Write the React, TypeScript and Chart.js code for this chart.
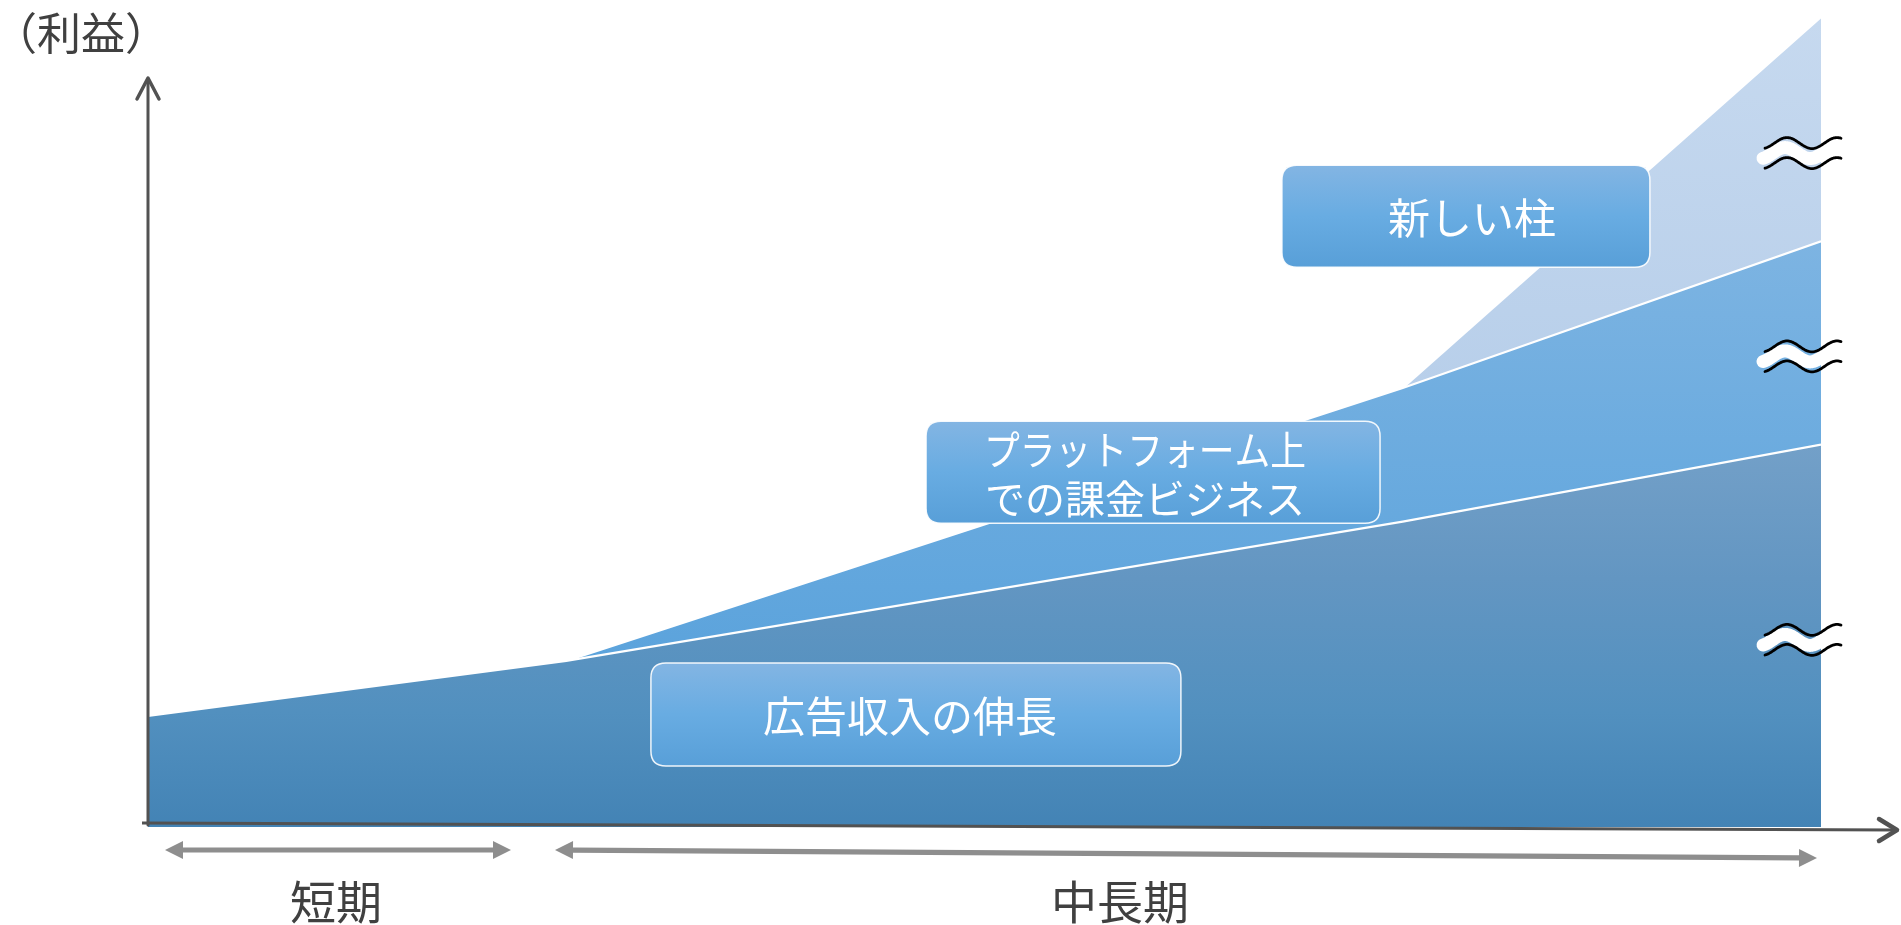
import React, { useEffect, useRef } from "react";
import { Chart, registerables } from "chart.js";

Chart.register(...registerables);

// ---- data ----
const yAxisTitle = "（利益）";
const periodLabels = ["短期", "中長期"];
const layerLabels = ["広告収入の伸長", "プラットフォーム上\nでの課金ビジネス", "新しい柱"];

const adX = [0, 1, 3, 4];
const adTop = [13.7, 20.5, 37.7, 47.2];
const platformX = [1, 3, 4];
const platformTop = [20.5, 54.2, 72.3];
const pillarX = [3, 4];
const pillarTop = [54.2, 100];

// break marks (≈) on the right edge, in value units
const breakMarks = [83.2, 58.1, 23.1];

// label box anchors in value units: [x, y]
const boxAnchorX = [1.836, 2.403, 3.151];
const boxAnchorY = [13.9, 43.8, 75.4];

const FONT = '"Noto Sans CJK JP", "Noto Sans", sans-serif';

function toPts(xs: number[], ys: number[]) {
  return xs.map((x, i) => ({ x, y: ys[i] }));
}

function vGrad(chart: any, vTop: number, vBottom: number, stops: [number, string][]) {
  const ys = chart.scales?.y;
  if (!ys || !chart.chartArea) return stops[0][1];
  const g = chart.ctx.createLinearGradient(0, ys.getPixelForValue(vTop), 0, ys.getPixelForValue(vBottom));
  stops.forEach(([o, c]) => g.addColorStop(o, c));
  return g;
}

function roundRectPath(ctx: CanvasRenderingContext2D, x: number, y: number, w: number, h: number, r: number) {
  ctx.beginPath();
  ctx.moveTo(x + r, y);
  ctx.lineTo(x + w - r, y);
  ctx.quadraticCurveTo(x + w, y, x + w, y + r);
  ctx.lineTo(x + w, y + h - r);
  ctx.quadraticCurveTo(x + w, y + h, x + w - r, y + h);
  ctx.lineTo(x + r, y + h);
  ctx.quadraticCurveTo(x, y + h, x, y + h - r);
  ctx.lineTo(x, y + r);
  ctx.quadraticCurveTo(x, y, x + r, y);
  ctx.closePath();
}

function wavePath(ctx: CanvasRenderingContext2D, x0: number, x1: number, yc: number, amp: number) {
  ctx.beginPath();
  const period = 50;
  const peakAt = 22;
  for (let x = x0; x <= x1; x += 1) {
    const ph = Math.PI / 2 + ((x - (x0 + peakAt)) / period) * 2 * Math.PI;
    const y = yc - amp * Math.sin(ph);
    if (x === x0) ctx.moveTo(x, y);
    else ctx.lineTo(x, y);
  }
}

function doubleArrow(ctx: CanvasRenderingContext2D, x1: number, y1: number, x2: number, y2: number) {
  const dx = x2 - x1, dy = y2 - y1;
  const len = Math.hypot(dx, dy);
  const ux = dx / len, uy = dy / len;
  const nx = -uy, ny = ux;
  const hl = 18, hw = 9, sw = 2.6;
  const pts: [number, number][] = [
    [x1, y1],
    [x1 + ux * hl + nx * hw, y1 + uy * hl + ny * hw],
    [x1 + ux * hl + nx * sw, y1 + uy * hl + ny * sw],
    [x2 - ux * hl + nx * sw, y2 - uy * hl + ny * sw],
    [x2 - ux * hl + nx * hw, y2 - uy * hl + ny * hw],
    [x2, y2],
    [x2 - ux * hl - nx * hw, y2 - uy * hl - ny * hw],
    [x2 - ux * hl - nx * sw, y2 - uy * hl - ny * sw],
    [x1 + ux * hl - nx * sw, y1 + uy * hl - ny * sw],
    [x1 + ux * hl - nx * hw, y1 + uy * hl - ny * hw],
  ];
  ctx.beginPath();
  pts.forEach(([px, py], i) => (i === 0 ? ctx.moveTo(px, py) : ctx.lineTo(px, py)));
  ctx.closePath();
  ctx.fill();
}

const overlayPlugin = {
  id: "overlay",
  afterDraw(chart: any) {
    const ctx: CanvasRenderingContext2D = chart.ctx;
    const xs = chart.scales.x;
    const ys = chart.scales.y;
    const area = chart.chartArea;
    ctx.save();

    // break marks
    breakMarks.forEach((v) => {
      const cx = xs.getPixelForValue(4) - 18;
      const cy = ys.getPixelForValue(v);
      const x0 = cx - 38, x1 = cx + 38;
      ctx.lineCap = "round";
      ctx.lineJoin = "round";
      ctx.strokeStyle = "#ffffff";
      ctx.lineWidth = 13;
      wavePath(ctx, x0 - 2, x1, cy, 5.5);
      ctx.stroke();
      ctx.strokeStyle = "#000000";
      ctx.lineWidth = 2.8;
      wavePath(ctx, x0, x1, cy - 10, 5.5);
      ctx.stroke();
      wavePath(ctx, x0, x1, cy + 10, 5.5);
      ctx.stroke();
    });

    // label boxes
    const boxW = [530, 454, 368];
    const boxH = [103, 102, 102];
    const fontPx = [42, 40, 42];
    layerLabels.forEach((label, i) => {
      const cx = xs.getPixelForValue(boxAnchorX[i]);
      const cy = ys.getPixelForValue(boxAnchorY[i]);
      const x = cx - boxW[i] / 2, y = cy - boxH[i] / 2;
      const g = ctx.createLinearGradient(0, y, 0, y + boxH[i]);
      g.addColorStop(0, "#83b5e3");
      g.addColorStop(0.5, "#68ace2");
      g.addColorStop(1, "#589fd8");
      roundRectPath(ctx, x, y, boxW[i], boxH[i], 15);
      ctx.fillStyle = g;
      ctx.fill();
      ctx.strokeStyle = "rgba(255,255,255,0.9)";
      ctx.lineWidth = 1.5;
      ctx.stroke();
      ctx.fillStyle = "#ffffff";
      ctx.font = `${fontPx[i]}px ${FONT}`;
      ctx.textAlign = "center";
      ctx.textBaseline = "middle";
      const lines = label.split("\n");
      const lh = 49;
      lines.forEach((ln, k) => {
        const ty = cy + (k - (lines.length - 1) / 2) * lh;
        const maxW = i === 1 ? 322 : undefined;
        if (maxW) ctx.fillText(ln, cx - 8, ty + 2, maxW);
        else ctx.fillText(ln, cx + (i === 2 ? 6 : -6), ty + 2);
      });
    });

    // axes
    ctx.strokeStyle = "#525252";
    ctx.lineCap = "round";
    ctx.lineJoin = "round";
    ctx.lineWidth = 3;
    const axX = area.left;
    ctx.beginPath();
    ctx.moveTo(axX, area.bottom - 2);
    ctx.lineTo(axX, 80);
    ctx.stroke();
    ctx.lineWidth = 3.5;
    ctx.beginPath();
    ctx.moveTo(axX - 11, 99);
    ctx.lineTo(axX, 78);
    ctx.lineTo(axX + 11, 99);
    ctx.stroke();

    ctx.lineWidth = 3;
    ctx.lineCap = "butt";
    ctx.beginPath();
    ctx.moveTo(142, area.bottom - 4);
    ctx.lineTo(1896, area.bottom + 3);
    ctx.stroke();
    ctx.lineCap = "round";
    ctx.lineWidth = 4.5;
    ctx.beginPath();
    ctx.moveTo(1879, area.bottom - 8);
    ctx.lineTo(1897, area.bottom + 3);
    ctx.lineTo(1879, area.bottom + 14);
    ctx.stroke();

    // period arrows
    ctx.fillStyle = "#8e8e8e";
    doubleArrow(ctx, 165, 850, 511, 850);
    doubleArrow(ctx, 555, 850, 1817, 858);

    // texts
    ctx.fillStyle = "#404040";
    ctx.textAlign = "center";
    ctx.textBaseline = "middle";
    ctx.font = `46px ${FONT}`;
    ctx.fillText(periodLabels[0], 336, 902);
    ctx.fillText(periodLabels[1], 1120, 902);
    ctx.font = `44px ${FONT}`;
    ctx.fillText(yAxisTitle, 81, 33);

    ctx.restore();
  },
};

export default function App() {
  const ref = useRef<HTMLCanvasElement>(null);

  useEffect(() => {
    document.body.style.margin = "0";
    const canvas = ref.current!;
    const chart = new Chart(canvas, {
      type: "line",
      data: {
        datasets: [
          {
            label: layerLabels[0],
            data: toPts(adX, adTop),
            fill: "origin",
            borderColor: "#ffffff",
            borderWidth: 2.2,
            pointRadius: 0,
            tension: 0,
            backgroundColor: (c: any) =>
              vGrad(c.chart, Math.max(...adTop), 0, [
                [0, "#73a0c8"],
                [0.35, "#6396c2"],
                [0.7, "#5290bf"],
                [1, "#4383b5"],
              ]),
          },
          {
            label: layerLabels[1],
            data: toPts(platformX, platformTop),
            fill: "-1",
            borderColor: "#ffffff",
            borderWidth: 2.2,
            pointRadius: 0,
            tension: 0,
            backgroundColor: (c: any) =>
              vGrad(c.chart, Math.max(...platformTop), platformTop[0], [
                [0, "#7db4e2"],
                [1, "#5ba3dc"],
              ]),
          },
          {
            label: layerLabels[2],
            data: toPts(pillarX, pillarTop),
            fill: "-1",
            borderColor: "#ffffff",
            borderWidth: 2.2,
            pointRadius: 0,
            tension: 0,
            backgroundColor: (c: any) =>
              vGrad(c.chart, Math.max(...pillarTop), pillarTop[0], [
                [0, "#c6d9ef"],
                [1, "#b8cfea"],
              ]),
          },
        ],
      },
      options: {
        responsive: false,
        animation: false,
        layout: { padding: { left: 148, right: 80, top: 17, bottom: 98 } },
        scales: {
          x: { type: "linear", min: 0, max: 4, display: false },
          y: { type: "linear", min: 0, max: 100, display: false },
        },
        plugins: {
          legend: { display: false },
          tooltip: { enabled: false },
        },
        events: [],
      },
      plugins: [overlayPlugin],
    });
    return () => chart.destroy();
  }, []);

  return (
    <div style={{ width: 1901, height: 925 }}>
      <canvas ref={ref} width={1901} height={925} style={{ display: "block", width: 1901, height: 925 }} />
    </div>
  );
}
